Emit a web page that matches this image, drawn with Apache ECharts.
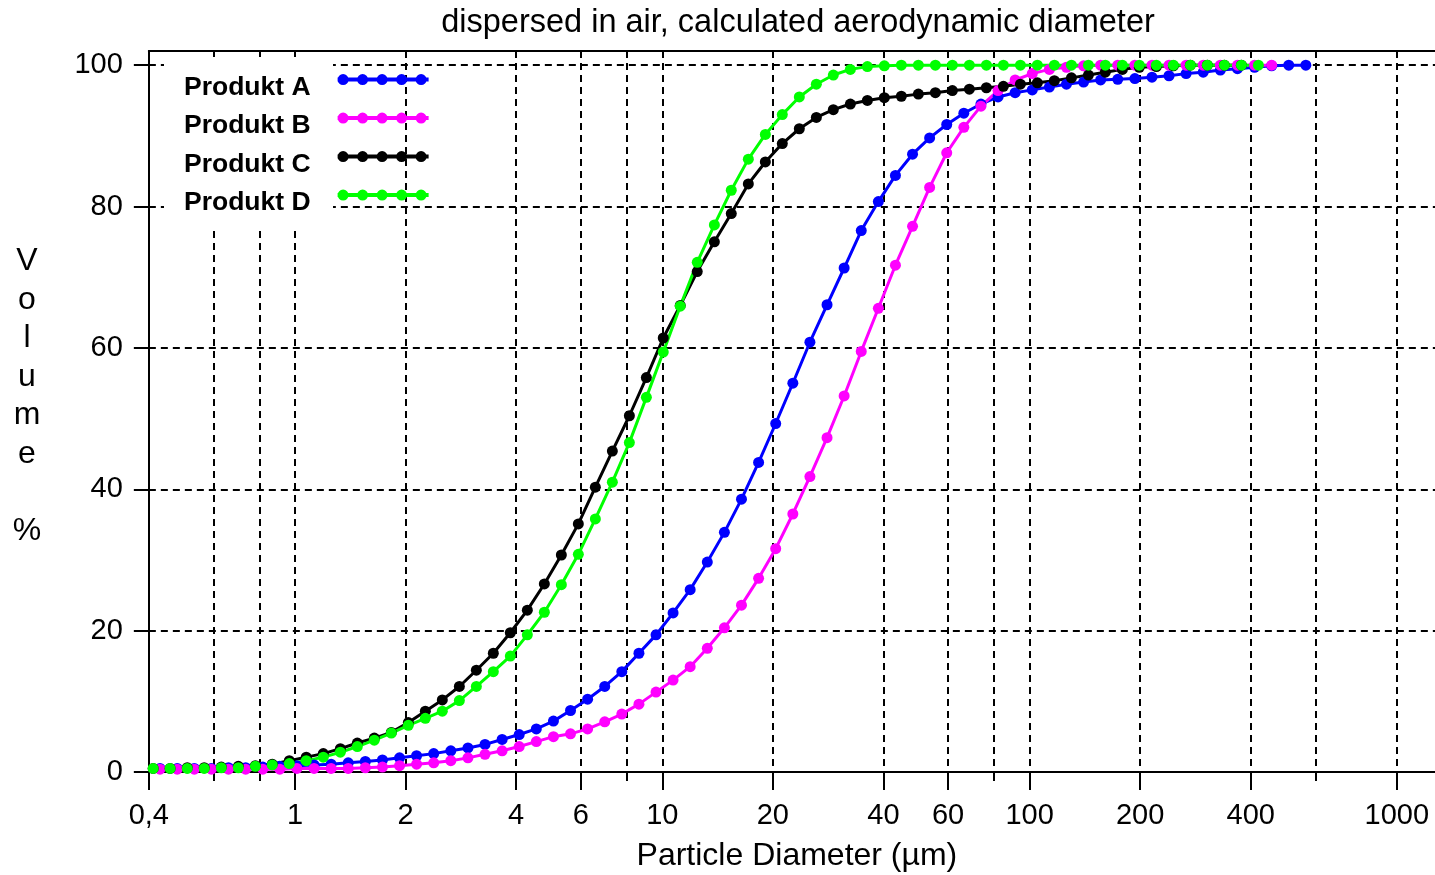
<!DOCTYPE html>
<html>
<head>
<meta charset="utf-8">
<script src="https://cdn.jsdelivr.net/npm/echarts@6/dist/echarts.min.js"></script>
<style>
  html, body { margin: 0; padding: 0; background: #fff; }
  #chart { width: 1435px; height: 875px; }
</style>
</head>
<body>
<div id="chart"></div>
<script>
// Particle diameters (µm) of the measurement channels
const diamCD = [0.411,0.457,0.509,0.566,0.630,0.701,0.780,0.867,0.965,1.073,1.194,1.329,1.478,1.644,1.829,2.035,2.264,2.518,2.802,3.117,3.467,3.857,4.291,4.774,5.311,5.908,6.573,7.312,8.135,9.050,10.06,11.19,12.45,13.86,15.41,17.15,19.08,21.22,23.61,26.27,29.22,32.51,36.17,40.23,44.76,49.80,55.40,61.63,68.56,76.28,84.86,94.40,105.0,116.8,130.0,144.6,160.8,178.9,199.0,221.4,246.3,274.0,304.8,339.1,377.3,419.7];
const diamAB = [0.429,0.478,0.532,0.592,0.659,0.734,0.817,0.909,1.012,1.127,1.254,1.396,1.554,1.730,1.926,2.143,2.386,2.656,2.957,3.291,3.664,4.078,4.540,5.054,5.625,6.262,6.971,7.759,8.638,9.615,10.70,11.91,13.26,14.76,16.43,18.29,20.36,22.67,25.23,28.09,31.27,34.81,38.75,43.13,48.01,53.44,59.49,66.22,73.72,82.06,91.35,101.7,113.2,126.0,140.3,156.1,173.8,193.5,215.4,239.7,266.8,297.0,330.7,368.1,409.7,456.1,507.7,565.1];

// Cumulative volume distribution Q3 (%)
const produktA = [0.5,0.5,0.5,0.5,0.6,0.6,0.7,0.8,0.9,1.0,1.1,1.3,1.5,1.7,2.0,2.3,2.6,3.0,3.4,3.9,4.6,5.3,6.1,7.2,8.7,10.3,12.1,14.2,16.8,19.4,22.5,25.8,29.7,33.9,38.6,43.8,49.3,55.0,60.8,66.1,71.3,76.6,80.7,84.4,87.4,89.7,91.6,93.2,94.5,95.5,96.1,96.5,96.9,97.3,97.6,97.9,98.0,98.1,98.3,98.5,98.8,99.0,99.3,99.5,99.7,99.9,100,100];
const produktB = [0.4,0.4,0.4,0.4,0.4,0.4,0.4,0.4,0.5,0.5,0.5,0.5,0.6,0.7,0.9,1.1,1.3,1.6,2.0,2.5,3.0,3.6,4.3,5.0,5.4,6.1,7.1,8.2,9.6,11.3,13.0,14.9,17.5,20.4,23.6,27.4,31.6,36.5,41.8,47.3,53.2,59.5,65.6,71.7,77.2,82.7,87.6,91.2,94.2,96.4,97.9,98.8,99.4,99.7,99.9,100,100,100,100,100,100,100,100,100,100,100];
const produktC = [0.5,0.5,0.6,0.6,0.7,0.8,0.9,1.1,1.6,2.1,2.6,3.3,4.1,4.8,5.6,7.0,8.6,10.2,12.1,14.4,16.8,19.7,22.9,26.6,30.7,35.1,40.3,45.4,50.4,55.8,61.4,66.0,70.8,75.0,79.0,83.2,86.3,88.9,91.0,92.6,93.7,94.5,95.0,95.4,95.6,95.9,96.1,96.4,96.6,96.8,97.0,97.3,97.5,97.8,98.2,98.6,99.0,99.4,99.7,99.8,99.9,100,100,100,100];
const produktD = [0.5,0.5,0.5,0.5,0.6,0.6,0.8,1.0,1.2,1.6,2.1,2.8,3.6,4.5,5.5,6.6,7.6,8.6,10.1,12.1,14.2,16.4,19.4,22.6,26.5,30.8,35.8,41.0,46.6,53.0,59.4,65.9,72.1,77.4,82.3,86.7,90.2,93.0,95.5,97.3,98.6,99.4,99.8,99.9,100,100,100,100,100,100,100,100,100,100,100,100,100,100,100,100,100,100,100,100,100,100];

// Axis ticks (diameters in µm, volume in %)
const labelTicks = [0.4, 1, 2, 4, 6, 10, 20, 40, 60, 100, 200, 400, 1000];
const gridTicks = [0.4, 0.6, 0.8, 1, 2, 4, 6, 8, 10, 20, 40, 60, 80, 100, 200, 400, 600, 1000];
const shortTicks = [0.6, 0.8, 8, 80, 600];
const yTicks = [0, 20, 40, 60, 80, 100];

const seriesNames = ['Produkt A', 'Produkt B', 'Produkt C', 'Produkt D'];
const seriesColors = ['#0000ff', '#ff00ff', '#000000', '#00ff00'];

// the x axis runs in decades: values are log10 of the diameter
const lg = Math.log10;
const xMin = lg(0.4);
const xMax = lg(1270);
const toPoints = (ds, vs) => vs.map((v, i) => [lg(ds[i]), v]);

const txtFont = '"Liberation Sans", Arial, sans-serif';

// legend icon: a short line carrying five dots, drawn in the upper part of a 91x27 box
function legendIconPath() {
  const r = 5.5, cy = 5.5;
  let p = 'M0 26.9 L91 26.9 L0 26.9 Z M0 3.5 L91 3.5 L91 7.5 L0 7.5 Z';
  [5.5, 25, 44.5, 64, 83.5].forEach(cx => {
    p += ` M${cx - r} ${cy} A${r} ${r} 0 1 1 ${cx + r} ${cy} A${r} ${r} 0 1 1 ${cx - r} ${cy} Z`;
  });
  return 'path://' + p;
}

function fmtDiameter(v) {
  const d = Math.round(Math.pow(10, v) * 10) / 10;
  return String(d).replace('.', ',');
}

function makeSeries(idx, ds, vs) {
  const c = seriesColors[idx];
  return {
    name: seriesNames[idx],
    type: 'line',
    xAxisIndex: 0,
    yAxisIndex: 0,
    data: toPoints(ds, vs),
    symbol: 'circle',
    symbolSize: 11,
    showSymbol: true,
    lineStyle: { color: c, width: 3 },
    itemStyle: { color: c, borderWidth: 0 },
    emphasis: { disabled: true },
    animation: false
  };
}

const dashed = { color: '#000', width: 2, type: [7, 5] };

const chart = echarts.init(document.getElementById('chart'), null, { renderer: 'canvas' });
chart.setOption({
  animation: false,
  backgroundColor: '#fff',
  textStyle: { fontFamily: txtFont },
  title: {
    text: 'dispersed in air, calculated aerodynamic diameter',
    left: 798,
    top: 23,
    padding: 0,
    textAlign: 'center',
    textVerticalAlign: 'middle',
    textStyle: { fontFamily: txtFont, fontWeight: 'normal', fontSize: 32.5, color: '#000' }
  },
  legend: {
    orient: 'vertical',
    left: 184,
    top: 74,
    padding: 0,
    align: 'right',
    itemWidth: 91,
    itemHeight: 27,
    itemGap: 11.5,
    icon: legendIconPath(),
    selectedMode: false,
    textStyle: {
      fontFamily: txtFont, fontWeight: 'bold', fontSize: 26.5, color: '#000',
      lineHeight: 27, padding: [0, 22, 0, 0]
    },
    data: seriesNames
  },
  grid: {
    left: 148.84,
    right: 0,
    top: 51,
    bottom: 103,
    containLabel: false,
    outerBoundsMode: 'none'
  },
  xAxis: [
    {
      type: 'value', min: xMin, max: xMax, position: 'bottom',
      axisLine: { show: true, onZero: false, lineStyle: { color: '#000', width: 2 } },
      axisTick: { show: true, length: 18, customValues: labelTicks.map(lg), lineStyle: { color: '#000', width: 2 } },
      axisLabel: {
        show: true, customValues: labelTicks.map(lg), formatter: fmtDiameter,
        margin: 29, color: '#000', fontFamily: txtFont, fontSize: 29
      },
      splitLine: { show: false },
      name: 'Particle Diameter (µm)',
      nameLocation: 'middle',
      nameGap: 84,
      nameTextStyle: { fontFamily: txtFont, fontSize: 32, color: '#000', verticalAlign: 'middle', padding: [0, 0, 0, 10] }
    },
    {
      type: 'value', min: xMin, max: xMax, position: 'top',
      axisLine: { show: true, onZero: false, lineStyle: { color: '#000', width: 2 } },
      axisTick: { show: true, inside: true, length: 5, customValues: gridTicks.map(lg), lineStyle: { color: '#000', width: 2 } },
      axisLabel: { show: false },
      splitLine: { show: true, lineStyle: dashed }
    },
    {
      type: 'value', min: xMin, max: xMax, position: 'bottom',
      axisLine: { show: false, onZero: false },
      axisTick: { show: true, length: 9, customValues: shortTicks.map(lg), lineStyle: { color: '#000', width: 2 } },
      axisLabel: { show: false },
      splitLine: { show: false }
    }
  ],
  yAxis: {
    type: 'value', min: 0, max: 102, position: 'left',
    axisLine: { show: true, onZero: false, lineStyle: { color: '#000', width: 2 } },
    axisTick: { show: true, length: 15, customValues: yTicks, lineStyle: { color: '#000', width: 2 } },
    axisLabel: { show: true, customValues: yTicks, margin: 26, color: '#000', fontFamily: txtFont, fontSize: 29 },
    splitLine: { show: true, lineStyle: dashed }
  },
  graphic: [
    {
      // white panel behind the legend names
      type: 'rect',
      z: 1,
      shape: { x: 164, y: 57, width: 169, height: 169 },
      style: { fill: '#fff' },
      silent: true
    },
    {
      type: 'text',
      z: 5,
      x: 27,
      y: 396,
      style: {
        text: 'V\no\nl\nu\nm\ne\n\n%',
        align: 'center',
        verticalAlign: 'middle',
        lineHeight: 38.5,
        font: '32px ' + txtFont,
        fill: '#000'
      }
    }
  ],
  series: [
    makeSeries(0, diamAB, produktA),
    makeSeries(1, diamAB, produktB),
    makeSeries(2, diamCD, produktC),
    makeSeries(3, diamCD, produktD)
  ]
});
</script>
</body>
</html>
